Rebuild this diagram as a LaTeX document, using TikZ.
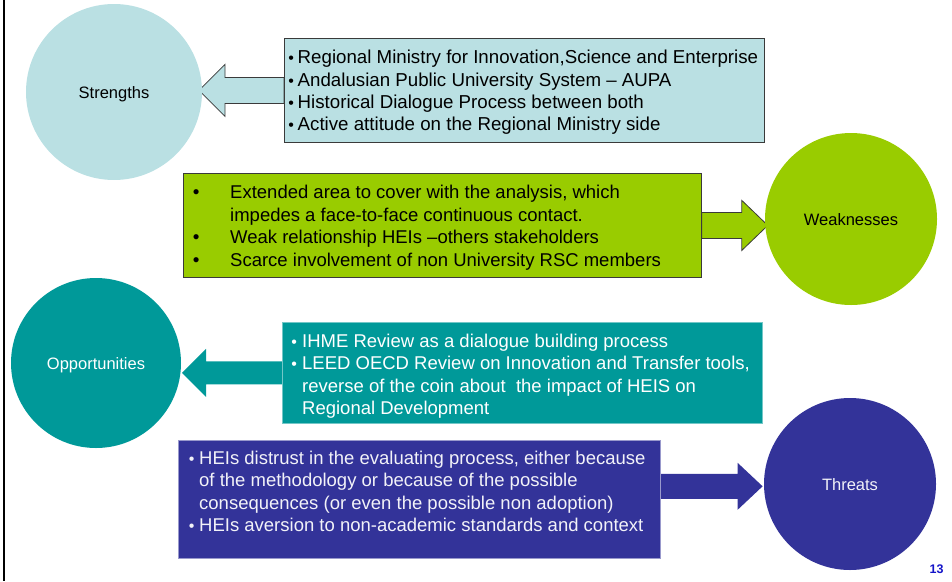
\documentclass[tikz,border=0pt]{standalone}
\usepackage{fontspec}
\setmainfont{Liberation Sans}
\usetikzlibrary{backgrounds}
\definecolor{lblue}{HTML}{BAE0E3}
\definecolor{lgreen}{HTML}{99CC00}
\definecolor{tealc}{HTML}{009999}
\definecolor{indigoc}{HTML}{333399}
\definecolor{edgec}{HTML}{3A3A3A}
\definecolor{pagenum}{HTML}{1414C8}
\definecolor{lightw}{HTML}{F2F2F8}
\newcommand\bl[2][16]{\llap{\makebox[#2][c]{\fontsize{#1}{#1}\selectfont •}}}
\newcommand\fstrut{\rule{0pt}{15pt}}
\begin{document}
\begin{tikzpicture}[x=1pt,y=-1pt,
  circ/.style={circle, inner sep=0pt, minimum size=#1, font=\fontsize{16.5}{19}\selectfont, text height=13.8pt, text depth=0pt},
  boxn/.style={rectangle, inner sep=0pt, anchor=north west},
  txt/.style={anchor=north west, inner sep=0pt, align=left, font=\fontsize{18.5}{22.4}\selectfont},
  fat/.style={line width=0.8pt, line join=miter}
]
\useasboundingbox (0,0) rectangle (952,581);
\fill[black] (2.6,0) rectangle (5.4,581);

% circles
\node[circ=176pt, fill=lblue, text=black] (S) at (114,92) {Strengths};
\node[circ=172pt, fill=lgreen, text=black] (W) at (851,219) {Weaknesses};
\node[circ=170pt, fill=tealc, text=white] (O) at (96,363) {Opportunities};
\node[circ=172pt, fill=indigoc, text=lightw] (T) at (850,484) {Threats};

% boxes
\node[boxn, fill=lblue, draw=edgec, line width=0.8pt, minimum width=480pt, minimum height=104pt] (sbox) at (284,38) {};
\node[boxn, fill=lgreen, draw=edgec, line width=0.8pt, minimum width=518pt, minimum height=104pt] (wbox) at (183,173) {};
\node[boxn, fill=tealc, draw=tealc!55!white, line width=0.6pt, minimum width=480pt, minimum height=101pt] (obox) at (282,322) {};
\node[boxn, fill=indigoc, draw=indigoc!50!white, line width=0.6pt, minimum width=482pt, minimum height=118pt] (tbox) at (178,440) {};

% fat arrows (connectors from box to circle)
\begin{scope}[on background layer]
\draw[fat, fill=lblue, draw=edgec] (sbox.west) ++(0,-13) -- ++(-59,0) -- ++(0,-13) -- ++(-26,26) -- ++(26,26) -- ++(0,-13) -- ++(59,0) -- cycle;
\draw[fat, fill=lgreen, draw=edgec] (wbox.east) ++(0,-13) -- ++(40,0) -- ++(0,-12) -- ++(26,25) -- ++(-26,25) -- ++(0,-12) -- ++(-40,0) -- cycle;
\fill[tealc] (obox.west) ++(0,-11.5) -- ++(-76,0) -- ++(0,-12.5) -- ++(-24,24) -- ++(24,24) -- ++(0,-12.5) -- ++(76,0) -- cycle;
\fill[indigoc] (tbox.east) ++(0,-25.5) -- ++(77,0) -- ++(0,-11) -- ++(25,23.5) -- ++(-25,23.5) -- ++(0,-11) -- ++(-77,0) -- cycle;
\end{scope}

% texts
\node[txt, text=black, font=\fontsize{18.7}{22.4}\selectfont] (stxt) at (297.5,48.5) {\fstrut\bl{13pt}Regional Ministry for Innovation,Science and Enterprise\\
\bl{13pt}Andalusian Public University System – AUPA\\
\bl{13pt}Historical Dialogue Process between both\\
\bl{13pt}Active attitude on the Regional Ministry side};

\node[txt, text=black] (wtxt) at (230,183.6) {\fstrut\bl[19]{68pt}Extended area to cover with the analysis, which\\
impedes a face-to-face continuous contact.\\
\bl[19]{68pt}Weak relationship HEIs –others stakeholders\\
\bl[19]{68pt}Scarce involvement of non University RSC members};

\node[txt, text=white] (otxt) at (302,332.1) {\fstrut\bl{16pt}IHME Review as a dialogue building process\\
\bl{16pt}LEED OECD Review on Innovation and Transfer tools,\\
reverse of the coin about~ the impact of HEIS on\\
Regional Development};

\node[txt, text=lightw] (ttxt) at (199,449) {\fstrut\bl{15pt}HEIs distrust in the evaluating process, either because\\
of the methodology or because of the possible\\
consequences (or even the possible non adoption)\\
\bl{15pt}HEIs aversion to non-academic standards and context};

\node[font=\fontsize{12.5}{14}\selectfont\bfseries, text=pagenum, inner sep=0pt] (pg) at (936.5,569.5) {13};
\end{tikzpicture}
\end{document}
